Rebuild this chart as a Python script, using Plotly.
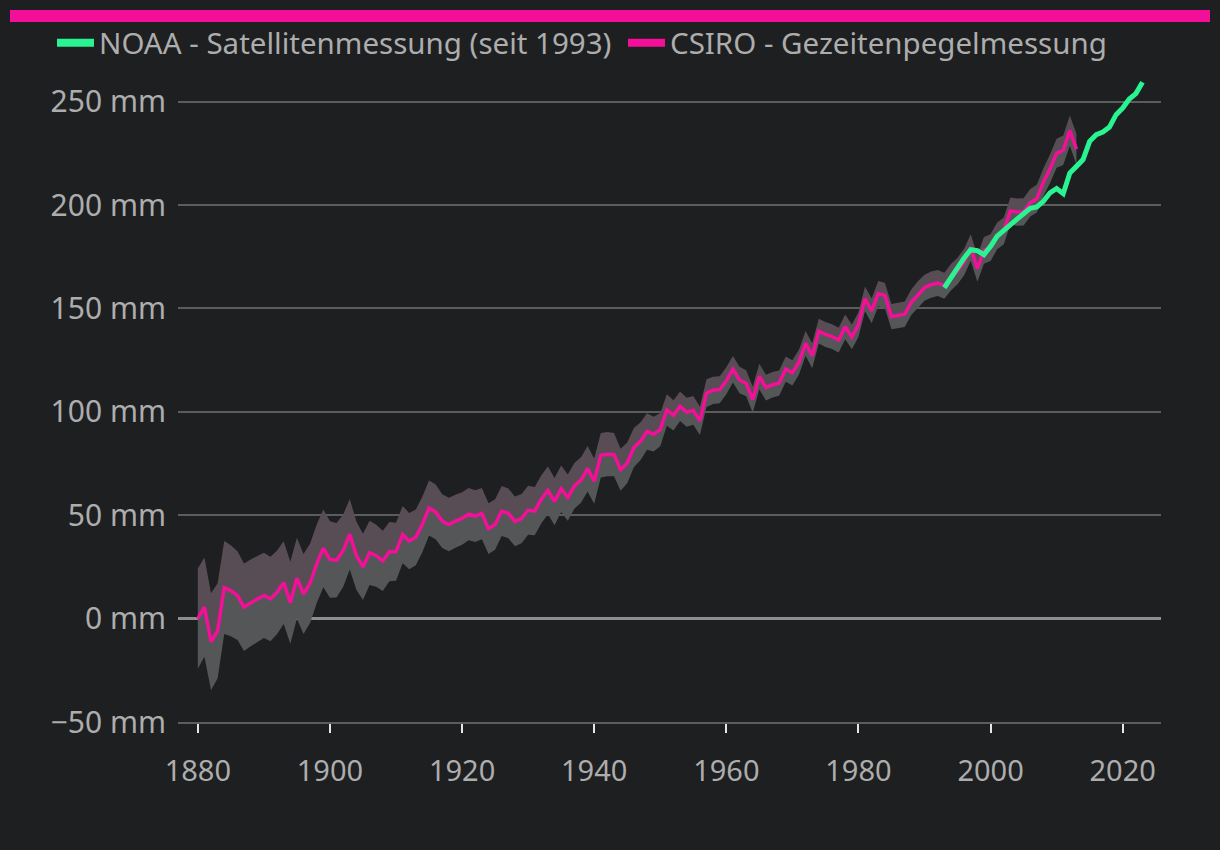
import plotly.graph_objects as go

# ---------------- data ----------------
csiro_years = list(range(1880, 2014))
csiro_mm = [
    0.0, 5.6, -11.2, -5.9, 15.0, 13.5, 11.1, 5.5, 7.6, 9.2,
    11.2, 9.5, 12.7, 17.4, 7.7, 19.5, 11.9, 17.1, 26.5, 34.0,
    28.6, 28.2, 32.8, 40.8, 30.5, 25.0, 31.8, 30.4, 27.9, 32.4,
    32.3, 40.6, 37.5, 39.3, 45.6, 53.5, 51.6, 47.1, 45.5, 47.1,
    48.4, 50.5, 49.6, 50.8, 43.5, 45.5, 52.0, 50.9, 47.0, 48.4,
    52.4, 52.0, 57.7, 62.0, 56.6, 62.8, 58.5, 64.2, 67.0, 72.5,
    66.5, 79.0, 79.5, 79.3, 72.0, 75.3, 82.7, 85.7, 90.5, 89.2,
    91.4, 100.9, 98.3, 102.7, 99.8, 100.7, 95.6, 109.0, 110.4, 110.7,
    115.0, 120.6, 115.4, 113.8, 105.9, 117.1, 111.7, 113.1, 113.9, 120.7,
    118.8, 124.0, 133.1, 127.1, 139.0, 137.4, 136.4, 134.7, 141.1, 136.2,
    142.2, 154.6, 148.8, 157.2, 156.3, 146.0, 146.6, 147.2, 153.0, 156.8,
    160.0, 161.5, 162.3, 161.0, 165.1, 168.1, 172.4, 179.5, 169.3, 178.1,
    179.4, 185.1, 187.5, 197.1, 196.6, 196.7, 201.1, 203.1, 211.0, 217.5,
    225.0, 226.5, 236.0, 227.0,
]
csiro_unc_mm = [
    24.2, 24.0, 23.5, 23.0, 22.5, 22.0, 21.5, 21.2, 21.0, 20.8,
    20.6, 20.4, 20.2, 20.0, 19.8, 19.6, 19.4, 19.2, 19.0, 18.8,
    18.5, 18.0, 17.5, 17.0, 16.5, 16.0, 15.5, 15.0, 14.6, 14.3,
    14.0, 13.8, 13.6, 13.5, 13.4, 13.3, 13.2, 13.0, 12.9, 12.8,
    12.7, 12.6, 12.5, 12.4, 12.3, 12.2, 12.1, 12.0, 12.0, 11.9,
    11.8, 11.7, 11.6, 11.5, 11.4, 11.3, 11.2, 11.1, 11.0, 11.0,
    10.9, 10.8, 10.7, 10.5, 10.2, 9.9, 9.5, 9.1, 8.8, 8.4,
    8.0, 7.6, 7.3, 7.1, 7.0, 6.9, 6.8, 6.7, 6.6, 6.5,
    6.5, 6.4, 6.4, 6.3, 6.3, 6.2, 6.2, 6.2, 6.1, 6.1,
    6.1, 6.0, 6.0, 6.0, 6.0, 6.0, 6.0, 6.0, 6.0, 6.0,
    6.0, 6.0, 6.0, 6.1, 6.1, 6.1, 6.2, 6.2, 6.2, 6.3,
    6.3, 6.3, 6.3, 6.3, 6.4, 6.4, 6.4, 6.4, 6.4, 6.5,
    6.5, 6.5, 6.5, 6.5, 6.6, 6.6, 6.6, 6.7, 6.8, 6.9,
    7.0, 7.1, 7.3, 7.5,
]
noaa_years = list(range(1993, 2024))
noaa_mm = [
    160.0, 164.7, 170.4, 174.4, 178.4, 177.9, 176.0, 180.0, 185.0, 188.0,
    191.0, 193.2, 195.8, 198.4, 199.1, 201.8, 205.9, 208.0, 205.5, 215.5,
    218.7, 222.0, 230.8, 234.0, 235.3, 237.7, 243.7, 246.9, 251.3, 253.9,
    259.4,
]
y_tick_vals = [-50, 0, 50, 100, 150, 200, 250]
y_tick_text = ["\u221250 mm", "0 mm", "50 mm", "100 mm", "150 mm", "200 mm", "250 mm"]
x_tick_vals = [1880, 1900, 1920, 1940, 1960, 1980, 2000, 2020]
x_tick_text = [str(v) for v in x_tick_vals]
legend_noaa = "NOAA - Satellitenmessung (seit 1993)"
legend_csiro = "CSIRO - Gezeitenpegelmessung"

# ---------------- style ----------------
BG = "#1e1f21"
PINK = "#f40f98"
GREEN = "#2af391"
BAND_LOW = "#545658"
BAND_UP = "#594d55"
TXT = "#adadad"
GRID = "#5c5c5c"
FONT = "Noto Sans"

lower = [v - u for v, u in zip(csiro_mm, csiro_unc_mm)]
upper = [v + u for v, u in zip(csiro_mm, csiro_unc_mm)]

fig = go.Figure()
fig.add_trace(go.Scatter(x=csiro_years, y=lower, mode="lines", line=dict(width=0),
                         showlegend=False, hoverinfo="skip"))
fig.add_trace(go.Scatter(x=csiro_years, y=csiro_mm, mode="lines", line=dict(width=0),
                         fill="tonexty", fillcolor=BAND_LOW, showlegend=False, hoverinfo="skip"))
fig.add_trace(go.Scatter(x=csiro_years, y=upper, mode="lines", line=dict(width=0),
                         fill="tonexty", fillcolor=BAND_UP, showlegend=False, hoverinfo="skip"))
fig.add_trace(go.Scatter(x=csiro_years, y=csiro_mm, mode="lines", name=legend_csiro,
                         line=dict(color=PINK, width=3.5), showlegend=False))
fig.add_trace(go.Scatter(x=noaa_years, y=noaa_mm, mode="lines", name=legend_noaa,
                         line=dict(color=GREEN, width=5), showlegend=False))
# legend entries (thicker symbols), one legend per entry for exact placement
fig.add_trace(go.Scatter(x=[None], y=[None], mode="lines", name=legend_noaa,
                         line=dict(color=GREEN, width=8), legend="legend"))
fig.add_trace(go.Scatter(x=[None], y=[None], mode="lines", name=legend_csiro,
                         line=dict(color=PINK, width=8), legend="legend2"))

fig.add_shape(type="rect", xref="paper", yref="paper",
              xsizemode="pixel", ysizemode="pixel", xanchor=0, yanchor=1,
              x0=-168, x1=1032, y0=48, y1=60,
              fillcolor=PINK, line=dict(width=0), layer="above")

legend_common = dict(orientation="h", xref="container", yref="container",
                     xanchor="left", y=1 - 43 / 850, yanchor="middle",
                     font=dict(size=29.5, color=TXT, family=FONT),
                     bgcolor="rgba(0,0,0,0)", itemwidth=37)

fig.update_layout(
    width=1220, height=850,
    paper_bgcolor=BG, plot_bgcolor=BG,
    margin=dict(l=178, r=59, t=70, b=128, autoexpand=False),
    font=dict(family=FONT, color=TXT, size=29),
    showlegend=True,
    legend=dict(x=52 / 1220, **legend_common),
    legend2=dict(x=623 / 1220, **legend_common),
    xaxis=dict(range=[1877.0, 2025.8], tickvals=x_tick_vals, ticktext=x_tick_text,
               showgrid=False, zeroline=False, showline=True, linecolor=GRID, linewidth=1.5,
               ticks="outside", ticklen=9, tickwidth=1.5, tickcolor="#e6e6e6",
               ticklabelstandoff=13, tickfont=dict(size=29, color=TXT, family=FONT)),
    yaxis=dict(range=[-50, 265.3], tickvals=y_tick_vals, ticktext=y_tick_text,
               showgrid=True, gridcolor=GRID, gridwidth=1.5,
               zeroline=True, zerolinecolor="#8e8e8e", zerolinewidth=3,
               showline=False, ticks="", ticklabelstandoff=11,
               tickfont=dict(size=30, color=TXT, family=FONT)),
)

fig.write_html("out.html", config={"displayModeBar": False},
               post_script="document.body.style.margin='0';document.body.style.background='#1e1f21';")
